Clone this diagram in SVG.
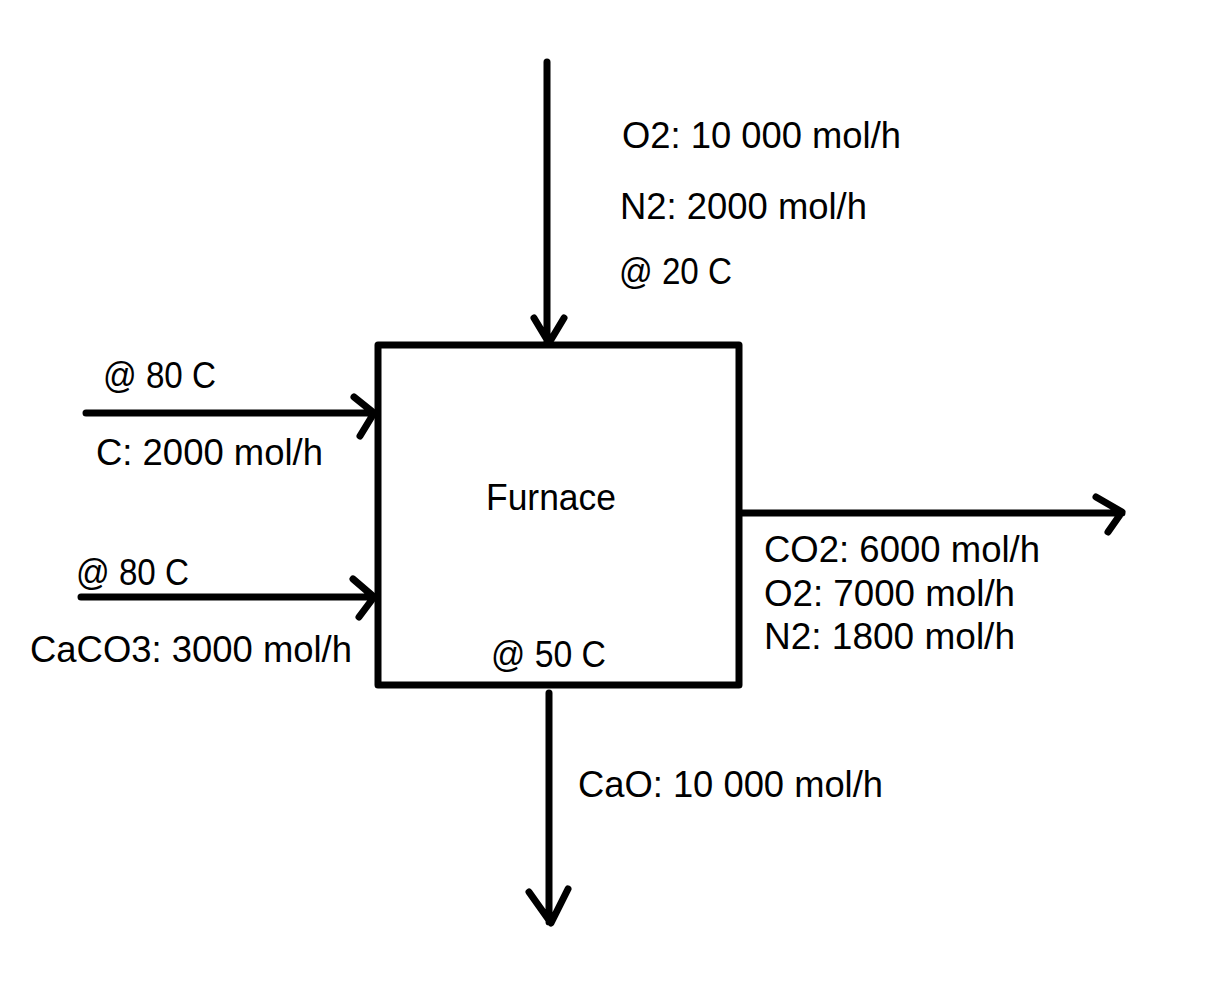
<svg xmlns="http://www.w3.org/2000/svg" width="1206" height="1000" viewBox="0 0 1206 1000">
<style>
.ln{fill:none;stroke:#000;stroke-width:7;stroke-linecap:round;stroke-linejoin:round}
.t{font-family:"Liberation Sans",Arial,sans-serif;font-size:36px;fill:#000}
</style>
<rect width="1206" height="1000" fill="#fff"/>
<g id="furnace">
<rect x="378" y="345" width="361" height="340" fill="none" stroke="#000" stroke-width="7" stroke-linejoin="round"/>
<text class="t" x="486" y="510" textLength="130" lengthAdjust="spacingAndGlyphs">Furnace</text>
<text class="t" x="491" y="667" textLength="115" lengthAdjust="spacingAndGlyphs">@ 50 C</text>
</g>
<g id="connectors">
<path class="ln" d="M547 62 V343 M534 318 L549 343 L564 318"/>
<path class="ln" d="M86 413 H374 M354 397 L374 413 L360 436"/>
<path class="ln" d="M81 597 H374 M353 579 L374 597 L359 617"/>
<path class="ln" d="M742 513 H1122 M1096 497 L1122 512 L1108 532"/>
<path class="ln" d="M549 693 V922 M529 892 L551 923 L568 889"/>
</g>
<g id="labels">
<text class="t" x="622" y="148" textLength="279" lengthAdjust="spacingAndGlyphs">O2: 10 000 mol/h</text>
<text class="t" x="620" y="219" textLength="247" lengthAdjust="spacingAndGlyphs">N2: 2000 mol/h</text>
<text class="t" x="619" y="284" textLength="113" lengthAdjust="spacingAndGlyphs">@ 20 C</text>
<text class="t" x="103" y="388" textLength="113" lengthAdjust="spacingAndGlyphs">@ 80 C</text>
<text class="t" x="96" y="465" textLength="227" lengthAdjust="spacingAndGlyphs">C: 2000 mol/h</text>
<text class="t" x="76" y="585" textLength="113" lengthAdjust="spacingAndGlyphs">@ 80 C</text>
<text class="t" x="30" y="662" textLength="322" lengthAdjust="spacingAndGlyphs">CaCO3: 3000 mol/h</text>
<text class="t" x="764" y="562" textLength="276" lengthAdjust="spacingAndGlyphs">CO2: 6000 mol/h</text>
<text class="t" x="764" y="606" textLength="251" lengthAdjust="spacingAndGlyphs">O2: 7000 mol/h</text>
<text class="t" x="764" y="649" textLength="251" lengthAdjust="spacingAndGlyphs">N2: 1800 mol/h</text>
<text class="t" x="578" y="797" textLength="305" lengthAdjust="spacingAndGlyphs">CaO: 10 000 mol/h</text>
</g>
</svg>
